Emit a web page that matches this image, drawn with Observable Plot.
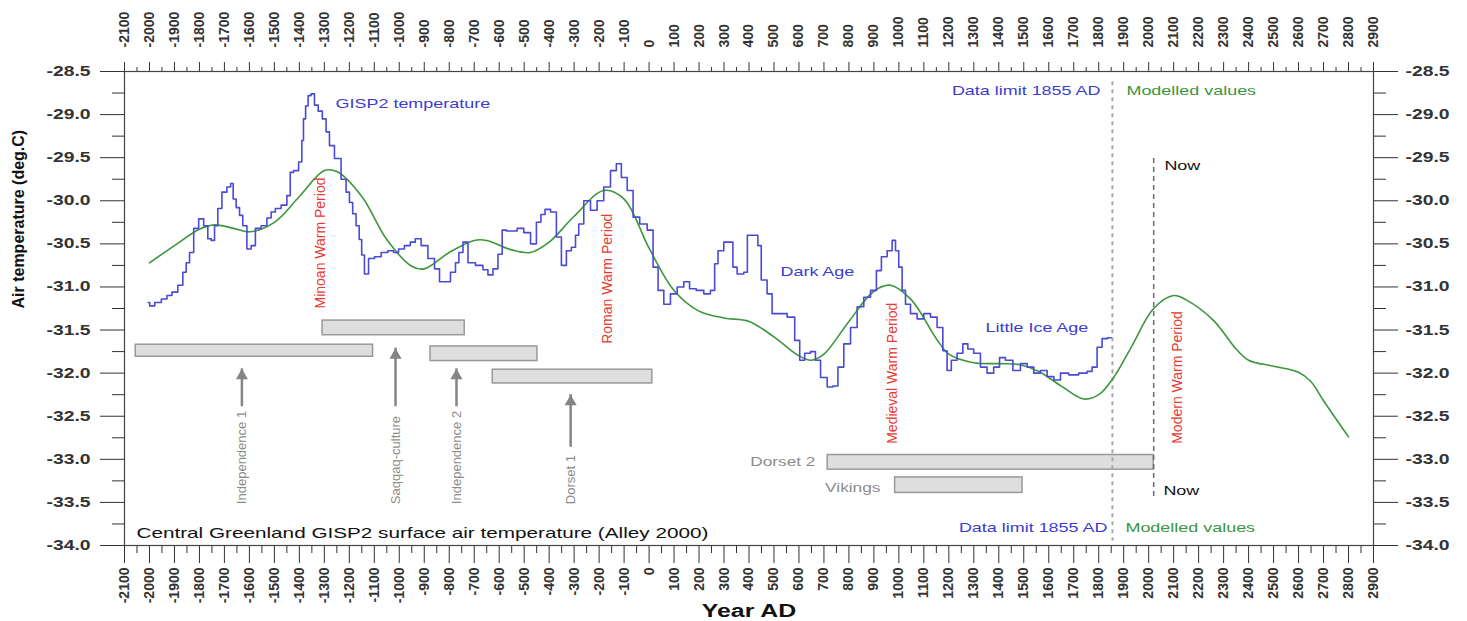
<!DOCTYPE html>
<html><head><meta charset="utf-8">
<script src="https://cdn.jsdelivr.net/npm/d3@7"></script>
<script src="https://cdn.jsdelivr.net/npm/@observablehq/plot@0.6"></script>
<style>body{margin:0;background:#fff;} svg{display:block}</style>
</head><body><div id="chart"></div>
<script>
// ---- GISP2 temperature (blue) ----
const blueYears = [-2005,-1993,-1965,-1940,-1920,-1900,-1873,-1860,-1846,-1833,-1813,-1793,-1773,-1760,-1746,-1733,-1720,-1700,-1680,-1670,-1660,-1646,-1633,-1620,-1600,-1586,-1566,-1540,-1520,-1506,-1486,-1460,-1440,-1433,-1413,-1393,-1387,-1380,-1370,-1360,-1346,-1333,-1316,-1300,-1286,-1273,-1246,-1220,-1206,-1193,-1180,-1166,-1155,-1146,-1133,-1113,-1086,-1059,-1033,-1013,-993,-966,-946,-926,-899,-872,-846,-832,-808,-782,-768,-755,-735,-715,-675,-655,-635,-615,-595,-581,-560,-541,-515,-488,-461,-441,-425,-408,-381,-361,-341,-321,-301,-288,-275,-248,-221,-195,-168,-141,-121,-101,-74,-54,-21,6,26,46,72,99,126,152,172,206,232,259,266,286,312,332,339,366,392,395,432,439,459,486,499,532,573,593,613,633,659,673,700,726,746,766,793,820,846,873,900,920,940,966,980,993,1006,1020,1033,1060,1086,1113,1140,1166,1186,1200,1220,1246,1266,1286,1313,1340,1366,1393,1413,1440,1473,1500,1527,1553,1580,1607,1634,1660,1700,1740,1767,1780,1807,1820,1850];
const blueTemps = [-31.18,-31.22,-31.18,-31.14,-31.10,-31.06,-30.98,-30.83,-30.72,-30.60,-30.32,-30.21,-30.29,-30.44,-30.46,-30.29,-30.09,-29.90,-29.84,-29.80,-29.98,-30.08,-30.17,-30.29,-30.56,-30.52,-30.32,-30.29,-30.20,-30.13,-30.09,-30.05,-29.94,-29.67,-29.65,-29.55,-29.30,-29.05,-28.90,-28.78,-28.76,-28.89,-28.96,-29.05,-29.20,-29.36,-29.51,-29.75,-29.90,-30.02,-30.15,-30.29,-30.45,-30.63,-30.85,-30.67,-30.65,-30.60,-30.58,-30.60,-30.56,-30.52,-30.48,-30.44,-30.52,-30.67,-30.79,-30.94,-30.94,-30.83,-30.72,-30.60,-30.48,-30.72,-30.75,-30.80,-30.86,-30.79,-30.62,-30.34,-30.35,-30.35,-30.32,-30.37,-30.50,-30.25,-30.16,-30.10,-30.13,-30.42,-30.75,-30.58,-30.54,-30.40,-30.27,-30.00,-30.11,-30.00,-29.84,-29.65,-29.57,-29.73,-29.88,-30.19,-30.27,-30.34,-30.77,-31.04,-31.20,-31.08,-31.00,-30.94,-31.02,-31.04,-31.08,-31.04,-30.73,-30.58,-30.48,-30.48,-30.77,-30.85,-30.83,-30.40,-30.40,-30.52,-30.92,-31.08,-31.31,-31.31,-31.35,-31.62,-31.85,-31.77,-31.75,-31.85,-32.05,-32.16,-32.15,-31.93,-31.66,-31.47,-31.23,-31.12,-31.04,-30.81,-30.65,-30.58,-30.46,-30.58,-30.77,-31.04,-31.20,-31.31,-31.37,-31.31,-31.35,-31.47,-31.74,-31.97,-31.85,-31.77,-31.66,-31.72,-31.77,-31.93,-32.00,-31.93,-31.82,-31.85,-31.97,-31.89,-31.93,-32.00,-31.97,-32.04,-32.08,-32.00,-32.02,-32.00,-31.98,-31.93,-31.70,-31.60,-31.59];

// ---- Modelled (green) ----
const greenYears = [-2000,-1900,-1800,-1740,-1650,-1600,-1500,-1400,-1300,-1250,-1150,-1050,-950,-900,-800,-700,-650,-550,-475,-400,-300,-181,-100,0,100,200,300,400,500,600,650,700,800,900,966,1050,1150,1200,1300,1400,1480,1560,1650,1740,1800,1860,1930,2020,2100,2150,2260,2350,2400,2500,2600,2650,2700,2800];
const greenTemps = [-30.72,-30.52,-30.33,-30.28,-30.33,-30.36,-30.25,-29.95,-29.65,-29.66,-29.95,-30.45,-30.76,-30.79,-30.60,-30.46,-30.46,-30.57,-30.60,-30.48,-30.18,-29.88,-29.98,-30.55,-31.04,-31.28,-31.36,-31.40,-31.58,-31.80,-31.85,-31.78,-31.40,-31.05,-30.98,-31.15,-31.60,-31.78,-31.88,-31.89,-31.90,-31.98,-32.15,-32.30,-32.25,-32.05,-31.70,-31.25,-31.10,-31.15,-31.39,-31.72,-31.85,-31.92,-31.99,-32.10,-32.32,-32.74];

// ---- culture bars ----
const cultureNames = ["Independence 1","Saqqaq-culture","Independence 2","Dorset 1","Dorset 2","Vikings"];
const cultureStart = [-2055,-1307,-875,-626,715,985];
const cultureEnd   = [-1105,-738,-447,13,2020,1495];
const cultureTop   = [-31.67,-31.39,-31.69,-31.96,-32.95,-33.21];
const cultureBottom= [-31.81,-31.56,-31.86,-32.12,-33.12,-33.39];

// rotated culture labels with arrows
const arrowNames = ["Independence 1","Saqqaq-culture","Independence 2","Dorset 1"];
const arrowYears = [-1630,-1015,-771,-314];
const arrowTip   = [-31.95,-31.71,-31.95,-32.25];
const arrowBase  = [-32.39,-32.39,-32.39,-32.86];
const arrowLabelBase = [-33.52,-33.52,-33.52,-33.52];

// horizontal culture labels
const sideNames = ["Dorset 2","Vikings"];
const sideYears = [666,926];
const sideTemps = [-33.03,-33.33];

// warm periods (red, rotated)
const periodNames = ["Minoan Warm Period","Roman Warm Period","Medieval Warm Period","Modern Warm Period"];
const periodYears = [-1315,-165,975,2115];
const periodBase  = [-31.25,-31.66,-32.82,-32.82];

// blue annotations
const blueNotes = ["GISP2 temperature","Dark Age","Little Ice Age"];
const blueNoteYears = [-1255,526,1347];
const blueNoteTemps = [-28.87,-30.83,-31.47];

// limit labels
const limitNames = ["Data limit 1855 AD","Data limit 1855 AD"];
const limitYears = [1807,1835];
const limitTemps = [-28.72,-33.79];
const modelNames = ["Modelled values","Modelled values"];
const modelYears = [1911,1907];
const modelTemps = [-28.72,-33.79];
const nowNames = ["Now","Now"];
const nowYears = [2063,2059];
const nowTemps = [-29.60,-33.37];

// vertical dashed lines
const dataLimitYear = 1855, dataLimitTop = -28.62, dataLimitBottom = -33.95;
const nowYear = 2020, nowTop = -29.51, nowBottom = -33.45;

const captionText = "Central Greenland GISP2 surface air temperature (Alley 2000)";
const captionYear = -2052, captionTemp = -33.86;

// ticks
const xMajor = d3.range(-2100, 2901, 100);
const xMinor = d3.range(-2050, 2900, 100);
const yMajor = [-34,-33.5,-33,-32.5,-32,-31.5,-31,-30.5,-30,-29.5,-29,-28.5];
const yMinor = [-33.75,-33.25,-32.75,-32.25,-31.75,-31.25,-30.75,-30.25,-29.75,-29.25,-28.75];

const gisp2 = blueYears.map((year,i)=>({year, temp: blueTemps[i]}));
const model = greenYears.map((year,i)=>({year, temp: greenTemps[i]}));
const cultures = cultureNames.map((name,i)=>({name, x1: cultureStart[i], x2: cultureEnd[i], y1: cultureTop[i], y2: cultureBottom[i]}));
const arrows = arrowNames.map((name,i)=>({name, year: arrowYears[i], tip: arrowTip[i], base: arrowBase[i], lab: arrowLabelBase[i]}));
const sides = sideNames.map((name,i)=>({name, year: sideYears[i], temp: sideTemps[i]}));
const periods = periodNames.map((name,i)=>({name, year: periodYears[i], temp: periodBase[i]}));
const bnotes = blueNotes.map((name,i)=>({name, year: blueNoteYears[i], temp: blueNoteTemps[i]}));
const limits = limitNames.map((name,i)=>({name, year: limitYears[i], temp: limitTemps[i]}));
const models = modelNames.map((name,i)=>({name, year: modelYears[i], temp: modelTemps[i]}));
const nows = nowNames.map((name,i)=>({name, year: nowYears[i], temp: nowTemps[i]}));

const axisColor = "#333";
const chart = Plot.plot({
  width: 1467, height: 621,
  marginLeft: 124, marginRight: 94, marginTop: 71, marginBottom: 76,
  style: {fontFamily: "'Liberation Sans', Arial, sans-serif", background: "#fff", color: "#222"},
  x: {domain: [-2100, 2900]},
  y: {domain: [-34, -28.5]},
  marks: [
    // axes
    Plot.axisX({anchor: "top", ticks: xMinor, tickSize: 5, tickFormat: () => "", label: null, color: axisColor}),
    Plot.axisX({anchor: "top", ticks: xMajor, tickSize: 10, tickPadding: 14, tickRotate: -90, tickFormat: d => String(d), label: null, color: axisColor, fontSize: 14, fontWeight: "bold"}),
    Plot.axisX({anchor: "bottom", ticks: xMinor, tickSize: 8, tickFormat: () => "", label: null, color: axisColor}),
    Plot.axisX({anchor: "bottom", ticks: xMajor, tickSize: 18, tickPadding: 4, tickRotate: -90, tickFormat: d => String(d), label: null, color: axisColor, fontSize: 14, fontWeight: "bold"}),
    Plot.axisY({anchor: "left", ticks: yMinor, tickSize: 12, tickFormat: () => "", label: null, color: axisColor}),
    Plot.axisY({anchor: "left", ticks: yMajor, tickSize: 24, tickPadding: 10, tickFormat: d => d.toFixed(1), label: null, color: axisColor, fontSize: 14, fontWeight: "bold"}),
    Plot.axisY({anchor: "right", ticks: yMinor, tickSize: 12, tickFormat: () => "", label: null, color: axisColor}),
    Plot.axisY({anchor: "right", ticks: yMajor, tickSize: 24, tickPadding: 8, tickFormat: d => d.toFixed(1), label: null, color: axisColor, fontSize: 14, fontWeight: "bold"}),
    Plot.frame({stroke: "#444", strokeWidth: 1.2}),
    // axis titles
    Plot.text(["Air temperature (deg.C)"], {frameAnchor: "left", dx: -106, rotate: -90, fontSize: 16, fontWeight: "bold", fill: "#111"}),
    Plot.text(["Year AD"], {frameAnchor: "bottom", dy: 66, lineAnchor: "middle", fontSize: 18, fontWeight: "bold", fill: "#111"}),
    // bars
    Plot.rect(cultures, {x1: "x1", x2: "x2", y1: "y1", y2: "y2", fill: "#dedede", stroke: "#999", strokeWidth: 1.5}),
    // arrows
    Plot.ruleX(arrows, {x: "year", y1: "base", y2: "tip", stroke: "#858585", strokeWidth: 2.5}),
    Plot.dot(arrows, {x: "year", y: "tip", dy: 7, r: 4.5, symbol: "triangle", fill: "#858585", stroke: "none"}),
    Plot.text(arrows, {x: "year", y: "lab", text: "name", rotate: -90, textAnchor: "start", fontSize: 13, fill: "#8c8c8c"}),
    Plot.text(sides, {x: "year", y: "temp", text: "name", textAnchor: "end", fontSize: 12.5, fill: "#8c8c8c"}),
    // dashed verticals
    Plot.ruleX([dataLimitYear], {x: d => d, y1: dataLimitTop, y2: dataLimitBottom, stroke: "#a8a8a8", strokeWidth: 2, strokeDasharray: "4,4"}),
    Plot.ruleX([nowYear], {x: d => d, y1: nowTop, y2: nowBottom, stroke: "#6a6a6a", strokeWidth: 1.5, strokeDasharray: "5,4"}),
    // curves
    Plot.line(model, {x: "year", y: "temp", curve: "catmull-rom", stroke: "#3c963c", strokeWidth: 1.6}),
    Plot.line(gisp2, {x: "year", y: "temp", curve: "step", stroke: "#4a4ad6", strokeWidth: 1.6}),
    // annotations
    Plot.text(periods, {x: "year", y: "temp", text: "name", rotate: -90, textAnchor: "start", fontSize: 14, fill: "#e83a30"}),
    Plot.text(bnotes, {x: "year", y: "temp", text: "name", textAnchor: "start", fontSize: 13, fill: "#3c3cd0"}),
    Plot.text(limits, {x: "year", y: "temp", text: "name", textAnchor: "end", fontSize: 13, fill: "#3c3cd0"}),
    Plot.text(models, {x: "year", y: "temp", text: "name", textAnchor: "start", fontSize: 13, fill: "#3c963c"}),
    Plot.text(nows, {x: "year", y: "temp", text: "name", textAnchor: "start", fontSize: 13, fill: "#111"}),
    Plot.text([captionText], {x: captionYear, y: captionTemp, textAnchor: "start", fontSize: 15, fill: "#111"})
  ]
});
document.getElementById("chart").append(chart);

// widen horizontal text to match the stretched look of the original
const STRETCH = 1.38;
chart.querySelectorAll("text").forEach(t => {
  const tr = t.getAttribute("transform") || "";
  if (tr.includes("rotate")) return;
  const len = t.getComputedTextLength();
  if (len > 0) { t.setAttribute("textLength", len * STRETCH); t.setAttribute("lengthAdjust", "spacingAndGlyphs"); }
});
</script></body></html>
